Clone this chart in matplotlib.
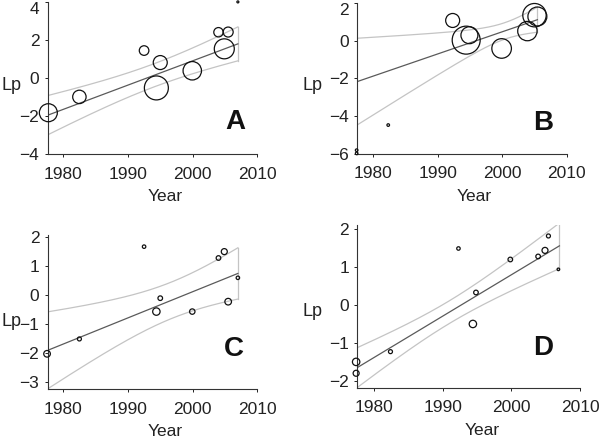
import numpy as np
import matplotlib
matplotlib.use("Agg")
import matplotlib.pyplot as plt

plt.rcParams['font.family'] = ['Liberation Sans', 'DejaVu Sans']

year_ticks = [1980, 1990, 2000, 2010]

# panel A
year_a = [1977.7, 1982.5, 1992.5, 1995.0, 1994.4, 1999.95, 2004.0, 2005.5, 2004.9, 2007.0]
lp_a = [-1.82, -0.99, 1.44, 0.81, -0.52, 0.38, 2.40, 2.41, 1.53, 3.99]
w_a = [81, 45, 23, 49, 144, 85, 22, 25, 100, 1]
fit_a = [1977.6, 2007.0, -1.95, 1.79]    # year from, year to, Lp from, Lp to
ci_a = [0.607, 0.0504, 1994.1]           # min half width, spread, centre year

# panel B
year_b = [1977.4, 1977.4, 1982.3, 1992.3, 1994.4, 1994.9, 1999.9, 2003.9, 2005.0, 2005.45]
lp_b = [-5.8, -5.97, -4.47, 1.06, 0.02, 0.28, -0.42, 0.50, 1.34, 1.27]
w_b = [1.7, 1.7, 1.7, 49, 196, 72, 96, 94, 137, 90]
fit_b = [1977.5, 2005.45, -2.17, 1.10]
ci_b = [0.436, 0.0982, 2000.4]

# panel C
year_c = [1977.5, 1982.5, 1992.5, 1995.0, 1994.4, 1999.95, 2004.0, 2004.9, 2005.5, 2007.0]
lp_c = [-2.02, -1.51, 1.66, -0.11, -0.57, -0.57, 1.27, 1.49, -0.23, 0.59]
w_c = [11, 4, 3, 5.3, 13.7, 7.3, 5.3, 9, 11, 3]
fit_c = [1977.5, 2007.0, -1.91, 0.74]
ci_c = [0.627, 0.0606, 1996.8]

# panel D
year_d = [1977.4, 1977.4, 1982.4, 1992.3, 1994.85, 1994.4, 1999.85, 2003.9, 2004.9, 2005.4, 2006.85]
lp_d = [-1.50, -1.80, -1.23, 1.49, 0.33, -0.50, 1.20, 1.28, 1.44, 1.82, 0.94]
w_d = [13.7, 9, 4, 3, 5.3, 13.7, 5.3, 5.3, 9, 4, 1.7]
fit_d = [1977.57, 2007.0, -1.65, 1.56]
ci_d = [0.299, 0.0324, 1990.9]

panels = [
    dict(letter="A", years=year_a, lp=lp_a, w=w_a, fit=fit_a, ci=ci_a,
         rect=[0.0795, 0.6509, 0.3493, 0.3452], xlim=(1977.6, 2010), ylim=(-4, 4),
         yticks=[-4, -2, 0, 2, 4], lp_pos=(-0.175, 0.454), let_pos=(0.894, 0.212)),
    dict(letter="B", years=year_b, lp=lp_b, w=w_b, fit=fit_b, ci=ci_b,
         rect=[0.5955, 0.6516, 0.349, 0.3423], xlim=(1977.5, 2010), ylim=(-6, 2),
         yticks=[-6, -4, -2, 0, 2], lp_pos=(-0.214, 0.45), let_pos=(0.887, 0.208)),
    dict(letter="C", years=year_c, lp=lp_c, w=w_c, fit=fit_c, ci=ci_c,
         rect=[0.0795, 0.1192, 0.3493, 0.3491], xlim=(1977.6, 2010), ylim=(-3.24, 2.06),
         yticks=[-3, -2, -1, 0, 1, 2], lp_pos=(-0.175, 0.44), let_pos=(0.889, 0.261)),
    dict(letter="D", years=year_d, lp=lp_d, w=w_d, fit=fit_d, ci=ci_d,
         rect=[0.5955, 0.1229, 0.3712, 0.3681], xlim=(1977.57, 2010), ylim=(-2.18, 2.11),
         yticks=[-2, -1, 0, 1, 2], lp_pos=(-0.2, 0.467), let_pos=(0.834, 0.241)),
]

FIG_H = 442


def draw_panel(ax, p):
    x0, x1, y0, y1 = p["fit"]
    h0, k, xm = p["ci"]
    xs = np.linspace(x0, x1, 200)
    fit = y0 + (y1 - y0) * (xs - x0) / (x1 - x0)
    half = np.sqrt(h0 ** 2 + (k * (xs - xm)) ** 2)
    upper = fit + half
    lower = fit - half

    ax.plot(xs, upper, color="#c4c4c4", lw=0.9)
    ax.plot(xs, lower, color="#c4c4c4", lw=0.9)
    ax.plot([x1, x1], [lower[-1], upper[-1]], color="#c4c4c4", lw=0.9)
    ax.plot(xs, fit, color="#5a5a5a", lw=0.9)

    sizes = np.array(p["w"]) * 2.07
    ax.scatter(p["years"], p["lp"], s=sizes, facecolors="none",
               edgecolors="#111111", linewidths=0.9, clip_on=False, zorder=3)

    ax.set_xlim(*p["xlim"])
    ax.set_ylim(*p["ylim"])
    ax.set_xticks(year_ticks)
    ax.set_yticks(p["yticks"])
    ax.tick_params(axis="both", direction="out", length=2.5, width=0.7,
                   labelsize=12.5, colors="#222222")
    ax.tick_params(axis="x", pad=6.5)
    ax.tick_params(axis="y", pad=3.5)
    for side in ["top", "right"]:
        ax.spines[side].set_visible(False)
    for side in ["left", "bottom"]:
        ax.spines[side].set_linewidth(0.8)
        ax.spines[side].set_color("#333333")

    # keep the top y label inside the figure, as in the original
    if p["rect"][1] + p["rect"][3] > 0.98:
        ax.get_yticklabels()[-1].set_va("top")

    ax_h = p["rect"][3] * FIG_H
    ax.set_xlabel("Year", fontsize=12.5, color="#222222")
    ax.xaxis.set_label_coords(0.56, -35.0 / ax_h)
    ax.set_ylabel("Lp", fontsize=13, rotation=0, ha="center", va="center", color="#222222")
    ax.yaxis.set_label_coords(*p["lp_pos"])
    ax.text(p["let_pos"][0], p["let_pos"][1], p["letter"], transform=ax.transAxes,
            fontsize=20, fontweight="bold", ha="center", va="center", color="#111111")


fig = plt.figure(figsize=(6.0, 4.42), dpi=100)
for p in panels:
    ax = fig.add_axes(p["rect"])
    draw_panel(ax, p)

fig.savefig("out.png", dpi=100)
